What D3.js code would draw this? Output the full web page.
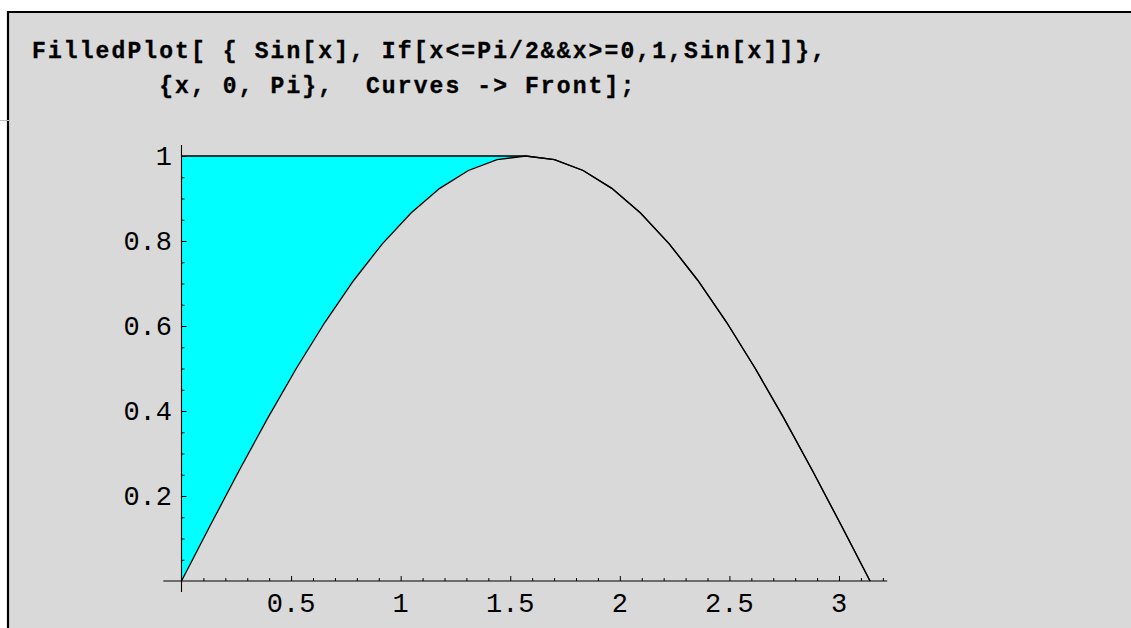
<!DOCTYPE html>
<html><head><meta charset="utf-8">
<script src="https://cdn.jsdelivr.net/npm/d3@7"></script>
<style>body{margin:0;background:#fff;} svg{display:block}</style>
</head><body><svg id="c" width="1131" height="628"></svg>
<script>
// ---- data ----
const codeLines = [
  "FilledPlot[ { Sin[x], If[x<=Pi/2&&x>=0,1,Sin[x]]},",
  "        {x, 0, Pi},  Curves -> Front];"
];
const xSamples = [0, 0.1309, 0.2618, 0.3927, 0.5236, 0.6545, 0.7854, 0.9163, 1.0472, 1.1781, 1.3090, 1.4399, 1.5708,
  1.7017, 1.8326, 1.9635, 2.0944, 2.2253, 2.3562, 2.4871, 2.6180, 2.7489, 2.8798, 3.0107, 3.1416];
const sinValues = [0, 0.1305, 0.2588, 0.3827, 0.5, 0.6088, 0.7071, 0.7934, 0.8660, 0.9239, 0.9659, 0.9914, 1,
  0.9914, 0.9659, 0.9239, 0.8660, 0.7934, 0.7071, 0.6088, 0.5, 0.3827, 0.2588, 0.1305, 0];
const upperValues = [1, 1, 1, 1, 1, 1, 1, 1, 1, 1, 1, 1, 1,
  0.9914, 0.9659, 0.9239, 0.8660, 0.7934, 0.7071, 0.6088, 0.5, 0.3827, 0.2588, 0.1305, 0];
const xTickValues = [0.5, 1, 1.5, 2, 2.5, 3];
const xTickLabels = ["0.5", "1", "1.5", "2", "2.5", "3"];
const yTickValues = [0.2, 0.4, 0.6, 0.8, 1];
const yTickLabels = ["0.2", "0.4", "0.6", "0.8", "1"];
const xMinorTicks = d3.range(1, 33).map(i => i / 10).filter(v => Math.abs(v * 2 - Math.round(v * 2)) > 1e-6);
const yMinorTicks = d3.range(1, 20).map(i => i / 20).filter(v => Math.abs(v * 5 - Math.round(v * 5)) > 1e-6);

// ---- drawing ----
const svg = d3.select("#c");
svg.append("rect").attr("x", 0).attr("y", 0).attr("width", 1131).attr("height", 628).attr("fill", "#fff");
svg.append("rect").attr("x", 8).attr("y", 12).attr("width", 1123).attr("height", 616).attr("fill", "#d9d9d9");
// cell frame
svg.append("line").attr("x1", 7).attr("x2", 1131).attr("y1", 12).attr("y2", 12).attr("stroke", "#000").attr("stroke-width", 2.2);
svg.append("line").attr("x1", 8).attr("x2", 8).attr("y1", 11).attr("y2", 628).attr("stroke", "#000").attr("stroke-width", 2.2);
svg.append("line").attr("x1", 0).attr("x2", 10).attr("y1", 120.5).attr("y2", 120.5).attr("stroke", "#bbb").attr("stroke-width", 1);

// code text
svg.selectAll("text.code").data(codeLines).enter().append("text")
  .attr("class", "code")
  .attr("x", 32).attr("y", (d, i) => 58 + i * 35)
  .style("white-space", "pre")
  .attr("font-family", "'Liberation Mono', 'DejaVu Sans Mono', monospace")
  .attr("font-weight", "bold").attr("font-size", 23)
  .attr("letter-spacing", 2.1)
  .attr("stroke", "#000").attr("stroke-width", 0.35)
  .attr("fill", "#000")
  .text(d => d);

const x = d3.scaleLinear().domain([0, 3]).range([181.5, 839]);
const y = d3.scaleLinear().domain([0, 1]).range([581, 156]);

const pts = xSamples.map((v, i) => ({x: v, lo: sinValues[i], hi: upperValues[i]}));

// fill
svg.append("path").datum(pts)
  .attr("d", d3.area().x(d => x(d.x)).y0(d => y(d.lo)).y1(d => y(d.hi)))
  .attr("fill", "#00ffff");

// axes lines
const ax = svg.append("g").attr("stroke", "#000").attr("stroke-width", 1.1);
ax.append("line").attr("x1", x(-0.083)).attr("x2", x(3.22)).attr("y1", y(0)).attr("y2", y(0));
ax.append("line").attr("x1", x(0)).attr("x2", x(0)).attr("y1", y(-0.026)).attr("y2", y(1.026));

// x ticks via d3 axis
const gx = svg.append("g").attr("transform", `translate(0,${y(0)})`);
gx.call(d3.axisBottom(x).tickValues(xTickValues).tickSize(-5).tickSizeOuter(0).tickFormat(""));
gx.call(g => g.select(".domain").remove());
const gxm = svg.append("g").attr("transform", `translate(0,${y(0)})`);
gxm.call(d3.axisBottom(x).tickValues(xMinorTicks).tickSize(-3).tickSizeOuter(0).tickFormat(""));
gxm.call(g => g.select(".domain").remove());

const gy = svg.append("g").attr("transform", `translate(${x(0)},0)`);
gy.call(d3.axisLeft(y).tickValues(yTickValues).tickSize(-5).tickSizeOuter(0).tickFormat(""));
gy.call(g => g.select(".domain").remove());
const gym = svg.append("g").attr("transform", `translate(${x(0)},0)`);
gym.call(d3.axisLeft(y).tickValues(yMinorTicks).tickSize(-3).tickSizeOuter(0).tickFormat(""));
gym.call(g => g.select(".domain").remove());
svg.selectAll(".tick line").attr("stroke", "#000").attr("stroke-width", 1);

// tick labels
const lblFont = "'Liberation Mono', 'DejaVu Sans Mono', monospace";
svg.selectAll("text.xl").data(xTickValues).enter().append("text")
  .attr("class", "xl")
  .attr("x", d => x(d)).attr("y", 611.5)
  .attr("text-anchor", "middle")
  .attr("font-family", lblFont).attr("font-size", 27)
  .attr("fill", "#000")
  .text((d, i) => xTickLabels[i]);
svg.selectAll("text.yl").data(yTickValues).enter().append("text")
  .attr("class", "yl")
  .attr("x", 172).attr("y", d => y(d) + 9)
  .attr("text-anchor", "end")
  .attr("font-family", lblFont).attr("font-size", 27)
  .attr("fill", "#000")
  .text((d, i) => yTickLabels[i]);

// curves (Curves -> Front)
const line = (key) => d3.line().x(d => x(d.x)).y(d => y(d[key]));
svg.append("path").datum(pts).attr("d", line("lo")).attr("fill", "none").attr("stroke", "#000").attr("stroke-width", 1.3);
svg.append("path").datum(pts).attr("d", line("hi")).attr("fill", "none").attr("stroke", "#000").attr("stroke-width", 1.3);
</script></body></html>
